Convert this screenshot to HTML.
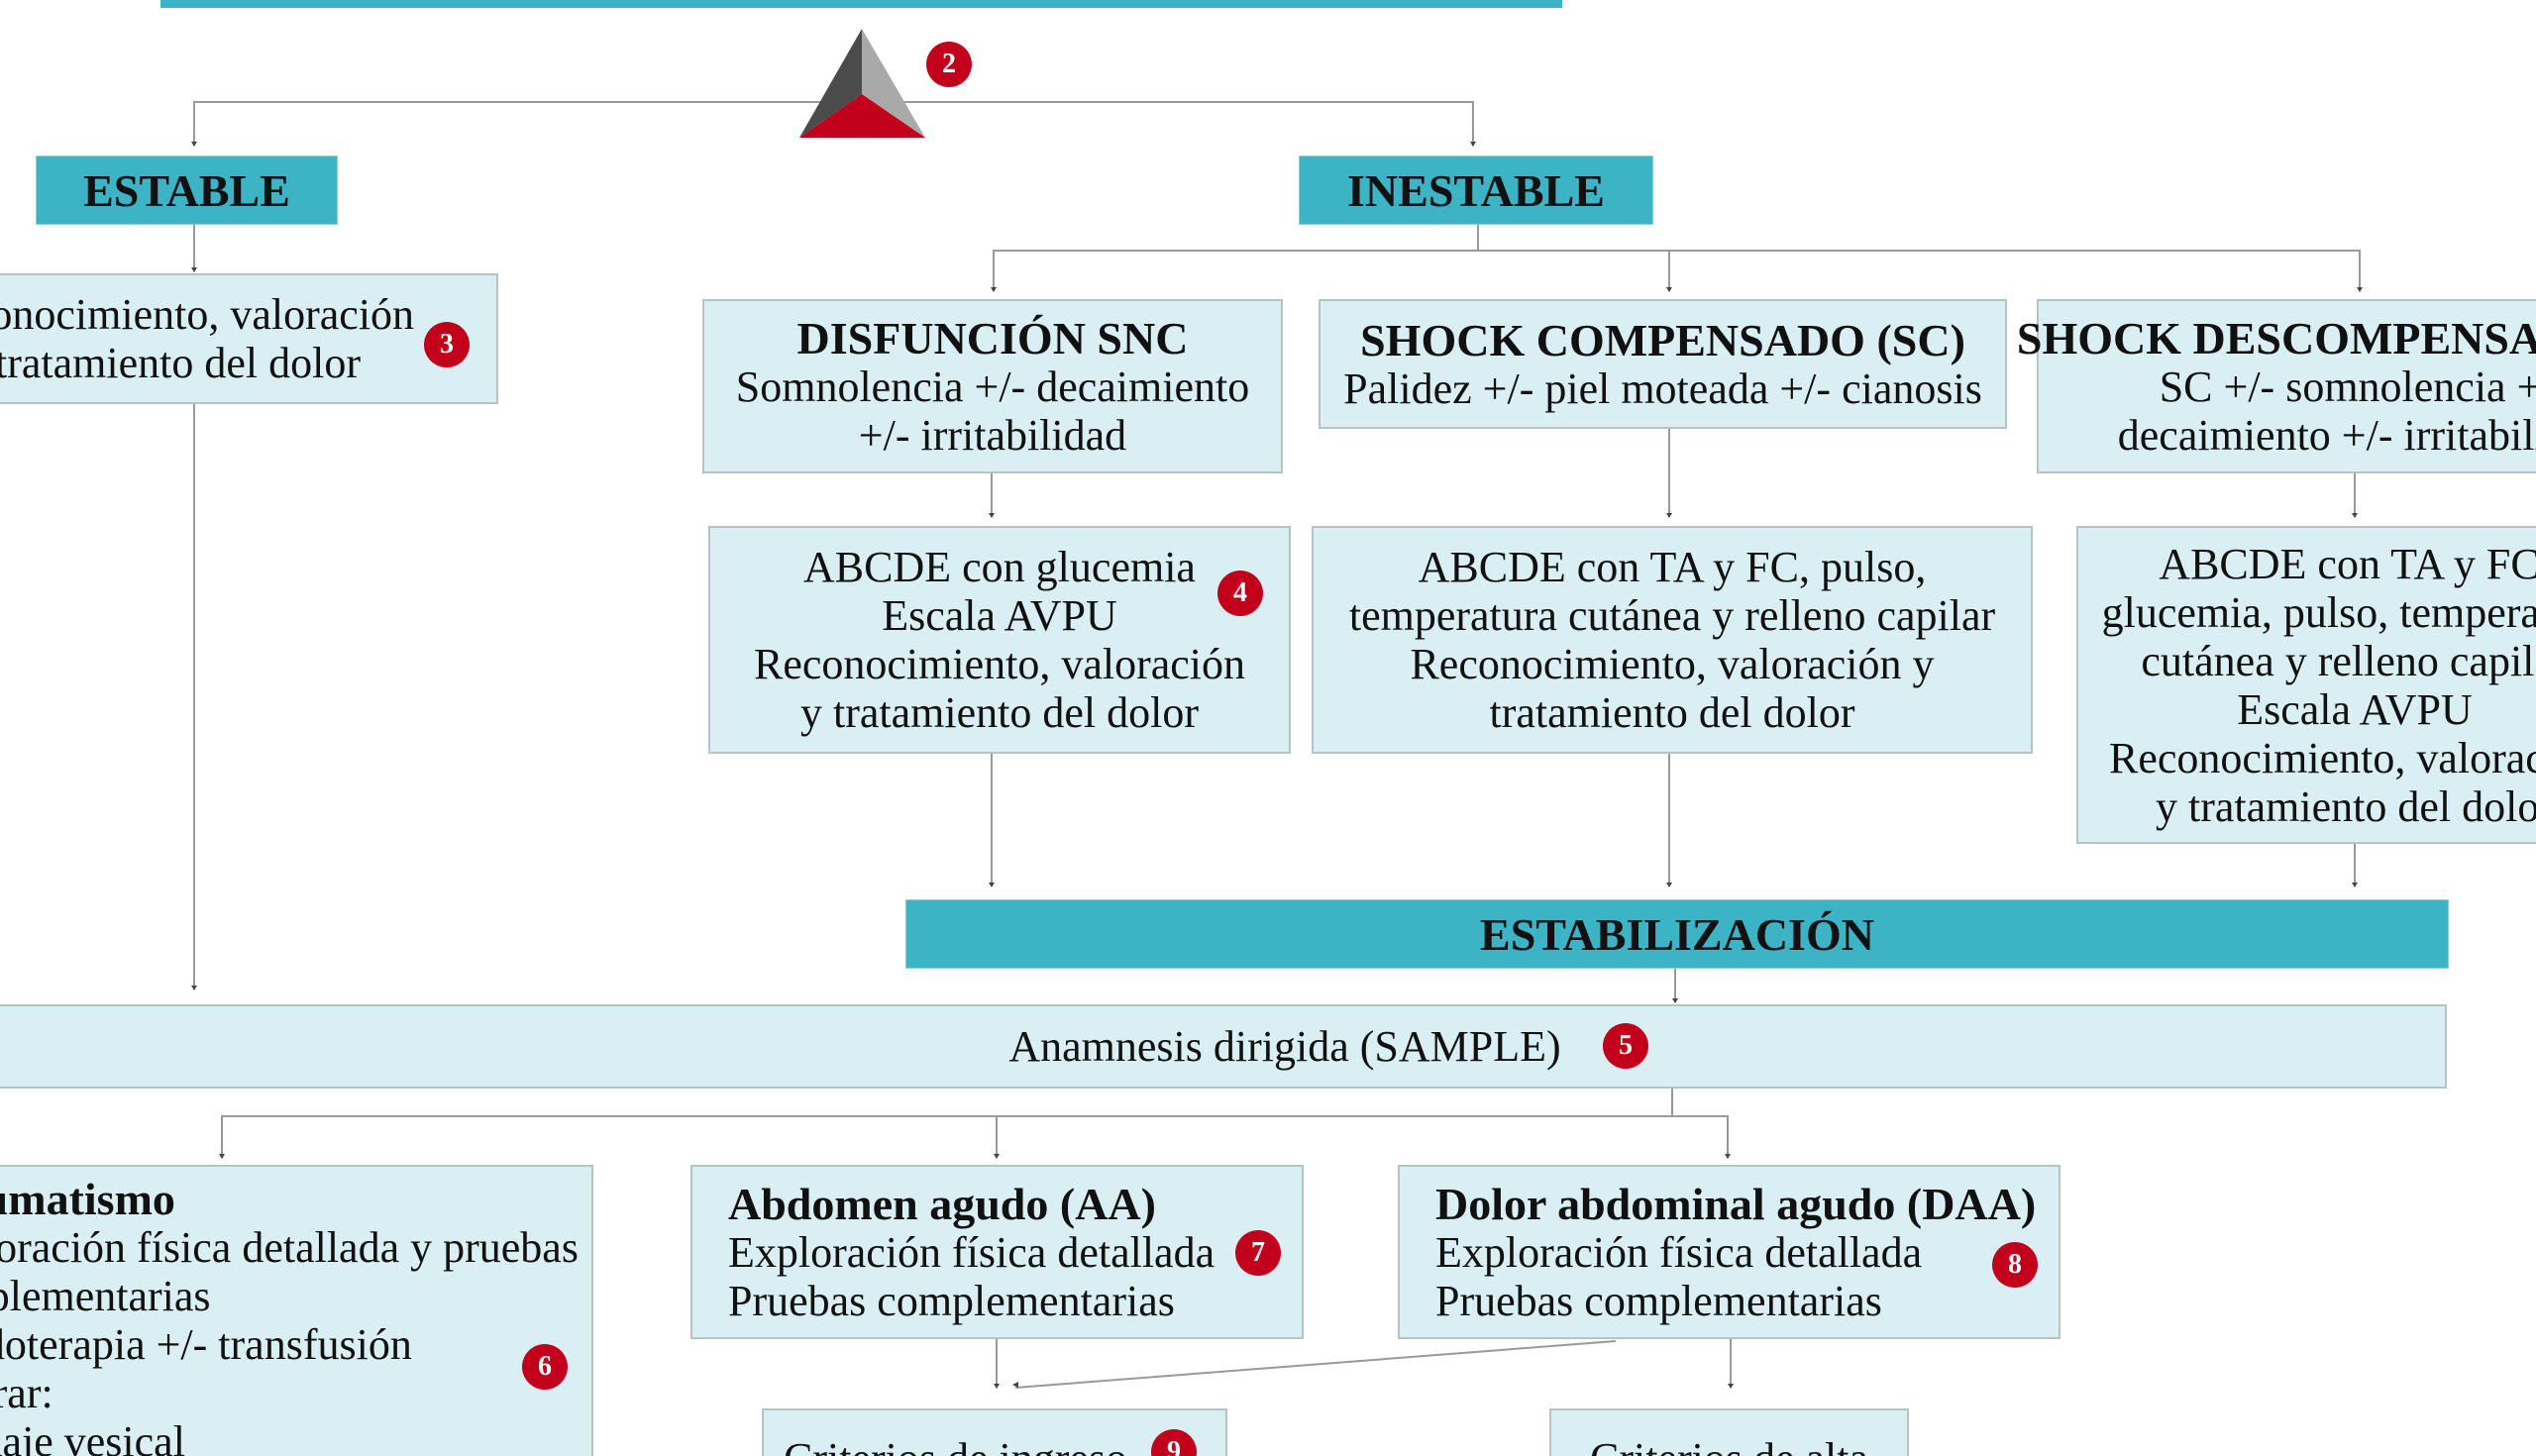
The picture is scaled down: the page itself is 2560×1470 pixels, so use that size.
<!DOCTYPE html>
<html><head><meta charset="utf-8"><style>
html,body{margin:0;padding:0;}
body{width:2560px;height:1470px;overflow:hidden;position:relative;background:#fff;font-family:"Liberation Serif",serif;color:#111;}
#w{position:absolute;left:0;top:0;width:2560px;height:1470px;overflow:hidden;}
.b{position:absolute;box-sizing:border-box;background:#d9eff3;border:2px solid #b5c3c6;display:flex;flex-direction:column;justify-content:center;align-items:center;text-align:center;font-size:44px;line-height:49px;white-space:nowrap;}
.t{position:absolute;box-sizing:border-box;background:#3db3c6;display:flex;justify-content:center;align-items:center;font-weight:bold;font-size:46px;white-space:nowrap;border:1px solid #9cc;}
.h{font-weight:bold;font-size:46px;}
.l{align-items:flex-start;text-align:left;}
.bd{position:absolute;width:46px;height:46px;border-radius:50%;background:#c2001c;color:#fff;font-weight:bold;font-size:28px;display:flex;justify-content:center;align-items:center;transform:translate(-23px,-23px);}
svg{position:absolute;left:0;top:0;}
</style></head><body><div id="w">
<svg width="2560" height="1470">
<g stroke="#999" stroke-width="2" fill="none">
<polyline points="196,147 196,103 1487,103 1487,147"/>
<line x1="196" y1="227" x2="196" y2="274"/>
<line x1="196" y1="408" x2="196" y2="999"/>
<line x1="1492" y1="227" x2="1492" y2="253"/>
<polyline points="1003,294 1003,253 2382,253 2382,294"/>
<line x1="1685" y1="253" x2="1685" y2="294"/>
<line x1="1001" y1="478" x2="1001" y2="522"/>
<line x1="1685" y1="433" x2="1685" y2="522"/>
<line x1="2377" y1="478" x2="2377" y2="522"/>
<line x1="1001" y1="761" x2="1001" y2="895"/>
<line x1="1685" y1="761" x2="1685" y2="895"/>
<line x1="2377" y1="852" x2="2377" y2="895"/>
<line x1="1691" y1="978" x2="1691" y2="1012"/>
<line x1="1688" y1="1099" x2="1688" y2="1127"/>
<polyline points="224,1169 224,1127 1744,1127 1744,1169"/>
<line x1="1006" y1="1127" x2="1006" y2="1169"/>
<line x1="1006" y1="1352" x2="1006" y2="1401"/>
<line x1="1747" y1="1352" x2="1747" y2="1401"/>
<line x1="1631" y1="1354" x2="1025" y2="1401"/>
</g>
<g fill="#444">
<path d="M193,143h6l-3,5z"/><path d="M1484,143h6l-3,5z"/><path d="M193,270h6l-3,5z"/><path d="M193,995h6l-3,5z"/>
<path d="M1000,290h6l-3,5z"/><path d="M1682,290h6l-3,5z"/><path d="M2379,290h6l-3,5z"/>
<path d="M998,518h6l-3,5z"/><path d="M1682,518h6l-3,5z"/><path d="M2374,518h6l-3,5z"/>
<path d="M998,891h6l-3,5z"/><path d="M1682,891h6l-3,5z"/><path d="M2374,891h6l-3,5z"/>
<path d="M1688,1008h6l-3,5z"/>
<path d="M221,1165h6l-3,5z"/><path d="M1003,1165h6l-3,5z"/><path d="M1741,1165h6l-3,5z"/>
<path d="M1003,1397h6l-3,5z"/><path d="M1744,1397h6l-3,5z"/><path d="M1022,1398l6,-3v6z"/>
</g>
<rect x="162" y="0" width="1415" height="8" fill="#3db3c6"/>
<polygon points="870,29 807,139 870,95" fill="#4b4b4b"/>
<polygon points="870,29 934,139 870,95" fill="#a9a9a9"/>
<polygon points="870,95 807,139 934,139" fill="#c2001c"/>
</svg>

<div class="t" style="left:36px;top:157px;width:305px;height:70px">ESTABLE</div>
<div class="t" style="left:1311px;top:157px;width:358px;height:70px">INESTABLE</div>

<div class="b" style="left:-80px;top:276px;width:583px;height:132px;align-items:flex-start"><div style="width:482px;text-align:center">Reconocimiento, valoración<br>y tratamiento del dolor</div></div>

<div class="b" style="left:709px;top:302px;width:586px;height:176px"><div class="h">DISFUNCIÓN SNC</div><div>Somnolencia +/- decaimiento<br>+/- irritabilidad</div></div>
<div class="b" style="left:1331px;top:302px;width:695px;height:131px"><div class="h">SHOCK COMPENSADO (SC)</div><div>Palidez +/- piel moteada +/- cianosis</div></div>
<div class="b" style="left:2056px;top:302px;width:660px;height:176px"><div class="h">SHOCK DESCOMPENSADO (SD)</div><div>SC +/- somnolencia +/-<br>decaimiento +/- irritabilidad</div></div>

<div class="b" style="left:715px;top:531px;width:588px;height:230px">ABCDE con glucemia<br>Escala AVPU<br>Reconocimiento, valoración<br>y tratamiento del dolor</div>
<div class="b" style="left:1324px;top:531px;width:728px;height:230px">ABCDE con TA y FC, pulso,<br>temperatura cutánea y relleno capilar<br>Reconocimiento, valoración y<br>tratamiento del dolor</div>
<div class="b" style="left:2096px;top:531px;width:562px;height:321px">ABCDE con TA y FC,<br>glucemia, pulso, temperatura<br>cutánea y relleno capilar<br>Escala AVPU<br>Reconocimiento, valoración<br>y tratamiento del dolor</div>

<div class="t" style="left:914px;top:908px;width:1558px;height:70px">ESTABILIZACIÓN</div>
<div class="b" style="left:-10px;top:1014px;width:2480px;height:85px;align-items:flex-start"><div style="width:2610px;text-align:center">Anamnesis dirigida (SAMPLE)</div></div>

<div class="b l" style="left:-200px;top:1176px;width:799px;height:400px;justify-content:flex-start;padding:8px 0 0 110px"><div class="h">Traumatismo</div><div>Exploración física detallada y pruebas<br>complementarias<br>Fluidoterapia +/- transfusión<br>Valorar:<br>Sondaje vesical</div></div>
<div class="b l" style="left:697px;top:1176px;width:619px;height:176px;padding-left:36px"><div class="h">Abdomen agudo (AA)</div><div>Exploración física detallada<br>Pruebas complementarias</div></div>
<div class="b l" style="left:1411px;top:1176px;width:669px;height:176px;padding-left:36px"><div class="h">Dolor abdominal agudo (DAA)</div><div>Exploración física detallada<br>Pruebas complementarias</div></div>

<div class="b l" style="left:769px;top:1422px;width:470px;height:160px;justify-content:flex-start;padding:24px 0 0 20px">Criterios de ingreso</div>
<div class="b" style="left:1564px;top:1422px;width:363px;height:160px;justify-content:flex-start;padding-top:24px">Criterios de alta</div>

<div class="bd" style="left:958px;top:65px">2</div>
<div class="bd" style="left:451px;top:348px">3</div>
<div class="bd" style="left:1252px;top:599px">4</div>
<div class="bd" style="left:1641px;top:1056px">5</div>
<div class="bd" style="left:550px;top:1380px">6</div>
<div class="bd" style="left:1270px;top:1265px">7</div>
<div class="bd" style="left:2034px;top:1277px">8</div>
<div class="bd" style="left:1185px;top:1466px">9</div>
</div></body></html>
